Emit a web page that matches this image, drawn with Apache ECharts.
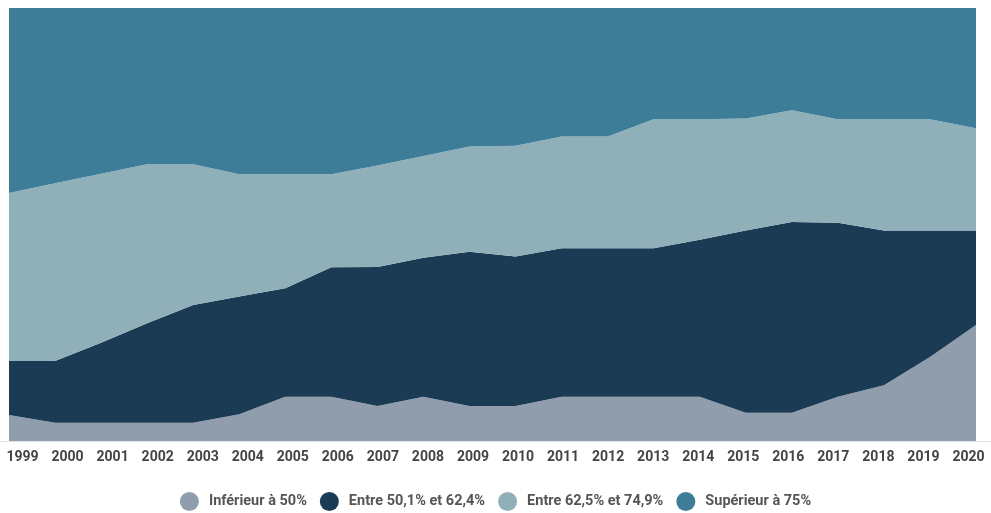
<!DOCTYPE html>
<html>
<head>
<meta charset="utf-8">
<script src="https://cdn.jsdelivr.net/npm/echarts@6/dist/echarts.min.js"></script>
<style>
html,body{margin:0;padding:0;background:#fff;}
#main{width:991px;height:513px;}
</style>
</head>
<body>
<div id="main"></div>
<script>
const years = ['1999','2000','2001','2002','2003','2004','2005','2006','2007','2008','2009','2010','2011','2012','2013','2014','2015','2016','2017','2018','2019','2020'];
const seriesNames = ['Inférieur à 50%','Entre 50,1% et 62,4%','Entre 62,5% et 74,9%','Supérieur à 75%'];
const inferieur50 = [6.0,4.2,4.2,4.2,4.2,6.2,10.2,10.2,8.1,10.2,8.1,8.1,10.2,10.2,10.2,10.2,6.5,6.5,10.2,12.9,19.4,26.8];
const entre50_62 = [12.5,14.3,18.5,23.0,27.2,27.2,25.1,29.9,32.1,32.1,35.6,34.5,34.3,34.3,34.3,36.3,42.1,44.1,40.2,35.7,29.2,21.8];
const entre62_75 = [38.8,41.0,39.0,36.7,32.5,28.2,26.3,21.5,23.4,23.5,24.3,25.6,25.8,25.8,29.8,27.8,25.9,25.8,23.9,25.7,25.7,23.6];
const superieur75 = [42.7,40.5,38.3,36.1,36.1,38.4,38.4,38.4,36.4,34.2,32.0,31.8,29.7,29.7,25.7,25.7,25.5,23.6,25.7,25.7,25.7,27.8];
const colors = ['#8f9dad','#1b3a53','#8fafb9','#3e7d98'];
const values = [inferieur50, entre50_62, entre62_75, superieur75];

const chart = echarts.init(document.getElementById('main'));
chart.setOption({
  animation: false,
  grid: [
    {left: 9, right: 15, top: 8, bottom: 72},
    {left: -5, right: -5, top: 8, bottom: 72}
  ],
  legend: {
    top: 487,
    left: 'center',
    icon: 'circle',
    itemWidth: 19,
    itemHeight: 19,
    itemGap: 13,
    textStyle: {fontFamily: 'Roboto', fontSize: 14.5, fontWeight: 'bold', color: '#555', padding: [0, 0, 0, 5]},
    data: seriesNames
  },
  xAxis: [
    {type: 'category', gridIndex: 0, boundaryGap: false, data: years,
     axisLine: {show: false}, axisTick: {show: false}, axisLabel: {show: false}, splitLine: {show: false}},
    {type: 'category', gridIndex: 1, boundaryGap: true, data: years,
     axisLine: {show: true, lineStyle: {color: '#e4e4e4'}}, axisTick: {show: false},
     axisLabel: {margin: 9, fontFamily: 'Roboto', fontSize: 14, fontWeight: 'bold', color: '#444', interval: 0},
     splitLine: {show: false}}
  ],
  yAxis: [
    {type: 'value', gridIndex: 0, min: 0, max: 100, show: false},
    {type: 'value', gridIndex: 1, min: 0, max: 100, show: false}
  ],
  series: values.map((v, i) => ({
    name: seriesNames[i],
    type: 'line',
    xAxisIndex: 0,
    yAxisIndex: 0,
    stack: 'total',
    data: v,
    symbol: 'none',
    lineStyle: {width: 0},
    areaStyle: {opacity: 1, color: colors[i]},
    itemStyle: {color: colors[i]}
  }))
});
</script>
</body>
</html>
